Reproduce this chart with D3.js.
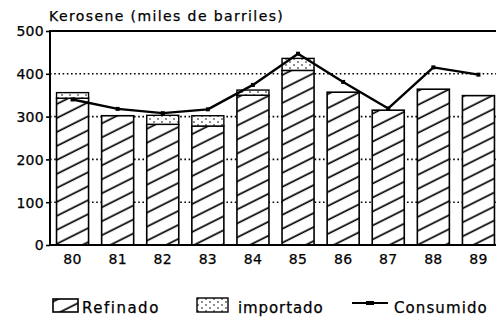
<!DOCTYPE html>
<html>
<head>
<meta charset="utf-8">
<script src="https://cdn.jsdelivr.net/npm/d3@7/dist/d3.min.js"></script>
<style>
  html, body { margin: 0; padding: 0; background: #fff; }
  svg { display: block; }
  text { font-family: "DejaVu Sans", "Liberation Sans", sans-serif; fill: #000; stroke: #000; stroke-width: 0.25px; }
</style>
</head>
<body>
<svg id="chart" width="497" height="324"></svg>
<script>
// Kerosene supply and consumption, thousands of barrels
const years = ["80", "81", "82", "83", "84", "85", "86", "87", "88", "89"];
const refinado = [343, 302, 282, 278, 350, 408, 357, 315, 364, 349];
const importado = [13, 0, 21, 24, 12, 28, 0, 0, 0, 0];
const consumido = [340, 318, 308, 317, 374, 447, 381, 319, 415, 398];
const yTicks = [0, 100, 200, 300, 400, 500];
const legendLabels = ["Refinado", "importado", "Consumido"];
const titleText = "Kerosene (miles de barriles)";

const svg = d3.select("#chart");
const plotLeft = 50, plotRight = 496, plotTop = 31, plotBottom = 245;

const x = d3.scaleBand().domain(years).range([plotLeft, 501])
  .paddingInner(0.29).paddingOuter(0.145);
const y = d3.scaleLinear().domain([0, 500]).range([plotBottom, plotTop]);

// fill patterns: diagonal hatch and sparse dots
const defs = svg.append("defs");
const hatch = defs.append("pattern").attr("id", "hatch")
  .attr("patternUnits", "userSpaceOnUse")
  .attr("width", 10).attr("height", 12.5)
  .attr("patternTransform", "rotate(-26.6)");
hatch.append("rect").attr("width", 10).attr("height", 12.5).attr("fill", "#fff");
hatch.append("line").attr("x1", 0).attr("x2", 10).attr("y1", 6).attr("y2", 6)
  .attr("stroke", "#000").attr("stroke-width", 1.7);

const dots = defs.append("pattern").attr("id", "dots")
  .attr("patternUnits", "userSpaceOnUse")
  .attr("width", 8).attr("height", 6);
dots.append("rect").attr("width", 8).attr("height", 6).attr("fill", "#fff");
dots.append("circle").attr("cx", 2).attr("cy", 2).attr("r", 0.8).attr("fill", "#000");
dots.append("circle").attr("cx", 6).attr("cy", 5).attr("r", 0.8).attr("fill", "#000");

// dotted gridlines
svg.append("g").selectAll("line")
  .data(yTicks.filter(d => d > 0 && d < 500))
  .join("line")
  .attr("x1", plotLeft).attr("x2", plotRight)
  .attr("y1", d => y(d)).attr("y2", d => y(d))
  .attr("stroke", "#000").attr("stroke-width", 1.6)
  .attr("stroke-dasharray", "1.6,2.6");

// refined (hatched) bars
svg.append("g").selectAll("rect")
  .data(years)
  .join("rect")
  .attr("x", d => x(d))
  .attr("width", x.bandwidth())
  .attr("y", (d, i) => y(refinado[i]))
  .attr("height", (d, i) => y(0) - y(refinado[i]))
  .attr("fill", "url(#hatch)")
  .attr("stroke", "#000").attr("stroke-width", 1.6);

// imported (dotted) segments stacked on top
svg.append("g").selectAll("rect")
  .data(years.filter((d, i) => importado[i] > 0))
  .join("rect")
  .attr("x", d => x(d))
  .attr("width", x.bandwidth())
  .attr("y", d => { const i = years.indexOf(d); return y(refinado[i] + importado[i]); })
  .attr("height", d => { const i = years.indexOf(d); return y(refinado[i]) - y(refinado[i] + importado[i]); })
  .attr("fill", "url(#dots)")
  .attr("stroke", "#000").attr("stroke-width", 1.4);

// consumption line
const line = d3.line()
  .x((d, i) => x(years[i]) + x.bandwidth() / 2)
  .y(d => y(d));
svg.append("path")
  .datum(consumido)
  .attr("d", line)
  .attr("fill", "none")
  .attr("stroke", "#000").attr("stroke-width", 2.4)
  .attr("stroke-linejoin", "round");
svg.append("g").selectAll("rect")
  .data(consumido)
  .join("rect")
  .attr("x", (d, i) => x(years[i]) + x.bandwidth() / 2 - 2)
  .attr("y", d => y(d) - 2)
  .attr("width", 4).attr("height", 4)
  .attr("fill", "#000");

// frame: top line at 500, left and bottom axes
const yAxis = d3.axisLeft(y).tickValues(yTicks).tickSize(4).tickPadding(2);
const gy = svg.append("g").attr("transform", `translate(${plotLeft},0)`).call(yAxis);
gy.select(".domain").remove();
gy.selectAll(".tick line").attr("stroke", "#000").attr("stroke-width", 1.6);
gy.selectAll(".tick text")
  .attr("font-size", 14).attr("letter-spacing", "0.3px")
  .attr("font-family", "\"DejaVu Sans\", sans-serif")
  .attr("dy", "0.35em");

const xAxis = d3.axisBottom(x).tickSize(0).tickPadding(9);
const gx = svg.append("g").attr("transform", `translate(0,${plotBottom})`).call(xAxis);
gx.select(".domain").remove();
gx.selectAll(".tick text")
  .attr("font-size", 14).attr("letter-spacing", "0.3px")
  .attr("font-family", "\"DejaVu Sans\", sans-serif");

svg.append("line").attr("x1", plotLeft).attr("x2", plotRight)
  .attr("y1", y(500)).attr("y2", y(500))
  .attr("stroke", "#000").attr("stroke-width", 2.2);
svg.append("line").attr("x1", plotLeft).attr("x2", plotRight)
  .attr("y1", y(0)).attr("y2", y(0))
  .attr("stroke", "#000").attr("stroke-width", 2.2);
svg.append("line").attr("x1", plotLeft).attr("x2", plotLeft)
  .attr("y1", y(500) - 1).attr("y2", y(0) + 1)
  .attr("stroke", "#000").attr("stroke-width", 2);

// title
svg.append("text")
  .attr("x", 49).attr("y", 21)
  .attr("font-size", 14).attr("letter-spacing", "1.4px")
  .text(titleText);

// legend
const lg = svg.append("g");
lg.append("rect").attr("x", 53).attr("y", 299).attr("width", 25).attr("height", 13)
  .attr("fill", "url(#hatch)").attr("stroke", "#000").attr("stroke-width", 1.6);
lg.append("text").attr("x", 82).attr("y", 313)
  .attr("font-size", 15).attr("letter-spacing", "1.5px").text(legendLabels[0]);

lg.append("rect").attr("x", 197).attr("y", 298).attr("width", 31).attr("height", 14)
  .attr("fill", "url(#dots)").attr("stroke", "#000").attr("stroke-width", 1.4);
lg.append("text").attr("x", 238).attr("y", 313)
  .attr("font-size", 15).attr("letter-spacing", "0.9px").text(legendLabels[1]);

lg.append("line").attr("x1", 352).attr("x2", 388).attr("y1", 303).attr("y2", 303)
  .attr("stroke", "#000").attr("stroke-width", 2);
lg.append("rect").attr("x", 366).attr("y", 301).attr("width", 8).attr("height", 4)
  .attr("fill", "#000");
lg.append("text").attr("x", 394).attr("y", 313)
  .attr("font-size", 15).attr("letter-spacing", "1.1px").text(legendLabels[2]);
</script>
</body>
</html>
